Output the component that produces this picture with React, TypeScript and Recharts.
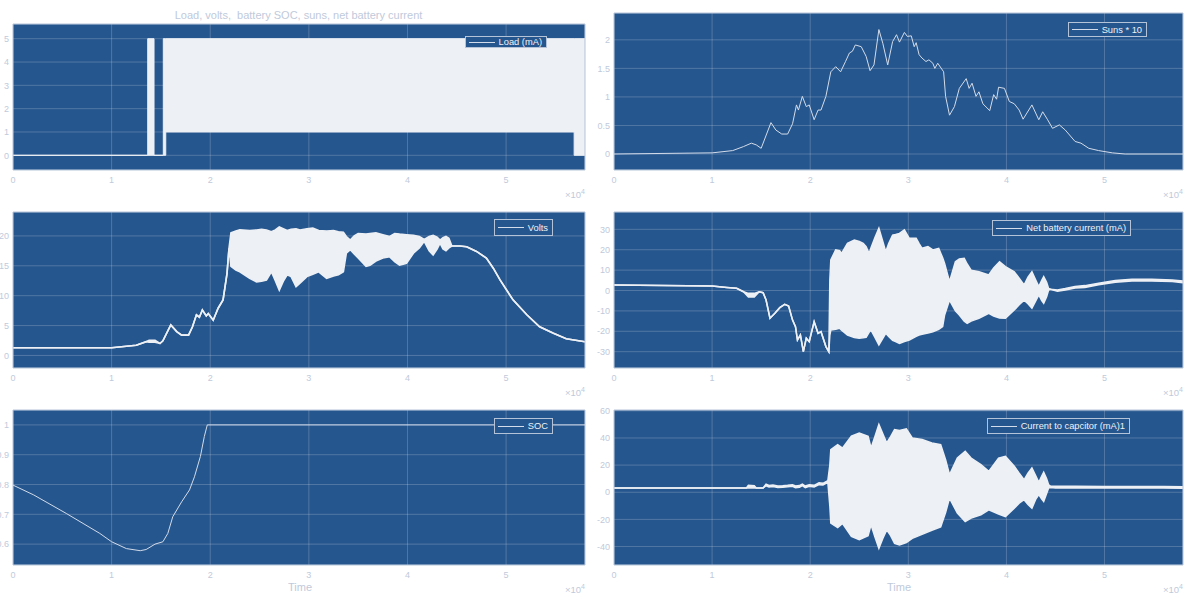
import React from 'react';
import { ComposedChart, Area, Line, XAxis, YAxis, CartesianGrid, ReferenceArea } from 'recharts';

// ---------------- data ----------------
const timeTicks = [0, 10000, 20000, 30000, 40000, 50000];
const timeMax = 58000;

const loadTicks = [0, 1, 2, 3, 4, 5];
const sunsTicks = [0, 0.5, 1, 1.5, 2];
const voltsTicks = [0, 5, 10, 15, 20];
const netTicks = [-30, -20, -10, 0, 10, 20, 30];
const socTicks = [0.6, 0.7, 0.8, 0.9, 1];
const capTicks = [-40, -20, 0, 20, 40, 60];

const loadT = [0, 13660, 13660, 14300, 14300, 15240, 15240, 15490, 15490, 56900, 56900, 58000];
const loadLo = [0, 0, 0, 0, 0, 0, 0, 0, 1, 1, 0, 0];
const loadHi = [0, 0, 5, 5, 0, 0, 5, 5, 5, 5, 5, 5];

const sunsT = [
  0, 10000, 12100, 13200, 14000, 14500, 15000, 16000, 16500, 17100,
  17700, 18200, 18600, 18800, 19200, 19600, 19900, 20400, 20800, 21100,
  21600, 22100, 22600, 23100, 23600, 24000, 24300, 24600, 25200, 25700,
  26100, 26500, 27000, 27400, 27900, 28400, 28800, 29100, 29600, 29900,
  30300, 30600, 30800, 31100, 31400, 31800, 32100, 32500, 32700, 33000,
  33600, 33800, 34200, 34700, 35200, 35900, 36200, 36500, 36900, 37200,
  37600, 38300, 38700, 39000, 39200, 39800, 40300, 40800, 41300, 41700,
  42600, 43300, 43700, 44200, 44700, 45400, 46000, 47000, 47600, 48400,
  49400, 50800, 52100, 58000,
];
const sunsV = [
  0, 0.02, 0.06, 0.13, 0.19, 0.16, 0.1, 0.55, 0.42, 0.35,
  0.35, 0.53, 0.86, 0.77, 1.01, 0.83, 0.86, 0.6, 0.77, 0.77,
  1.01, 1.44, 1.53, 1.44, 1.62, 1.77, 1.8, 1.91, 1.88, 1.71,
  1.46, 1.56, 2.18, 1.94, 1.56, 1.97, 2.09, 1.96, 2.13, 2.06,
  2.07, 1.88, 1.95, 1.74, 1.68, 1.62, 1.65, 1.59, 1.5, 1.59,
  1.44, 1.01, 0.68, 0.83, 1.15, 1.32, 1.15, 1.24, 1.01, 1.09,
  0.88, 0.76, 1.04, 0.96, 1.17, 1.15, 0.92, 0.88, 0.77, 0.61,
  0.86, 0.6, 0.74, 0.6, 0.45, 0.51, 0.42, 0.22, 0.19, 0.1,
  0.06, 0.02, 0, 0,
];

const voltsT = [
  0, 10000, 11500, 12500, 13500, 13800, 14400, 14900, 15200, 16000,
  16600, 17100, 17800, 18200, 18600, 18900, 19200, 19600, 19800, 20300,
  20800, 21300, 21700,
  21900, 22100, 22600, 23000, 24000, 24700, 25200, 25700, 26200, 26600,
  27000, 27400, 27800, 28200, 28700, 29100, 29800, 30400, 31000, 31800,
  32500, 33000, 33500, 33800, 34200, 34600, 35000, 35800, 36200, 36800,
  37500, 38200, 38700, 39200, 39900, 40600, 41200, 41700, 42200, 42600,
  43000, 43300, 43600, 43900, 44200, 44500,
  45300, 46000, 47000, 48000, 48700, 49400, 50700, 52100, 53400, 54800, 56100, 58000,
];
const voltsLo = [
  1.3, 1.3, 1.55, 1.7, 2.3, 2.2, 2.2, 2.0, 2.45, 5.1,
  4.0, 3.4, 3.4, 4.8, 6.8, 6.4, 7.6, 6.6, 7.0, 5.9,
  7.9, 9.3, 13.7,
  17.9, 14.9, 14.3, 14.0, 12.9, 12.3, 12.4, 12.6, 14.0, 12.5,
  10.9, 12.4, 13.5, 13.2, 11.5, 12.1, 13.2, 13.6, 14.0, 12.9,
  13.3, 13.5, 14.0, 17.1, 17.7, 17.0, 16.3, 14.9, 15.1, 15.8,
  16.3, 16.5, 15.7, 15.1, 15.4, 17.1, 18.0, 19.1, 17.5, 16.8,
  17.8, 18.8, 17.8, 17.5, 18.0, 18.3,
  18.3, 18.2, 17.4, 16.3, 14.6, 12.6, 9.3, 6.8, 4.8, 3.7, 2.8, 2.3,
];
const voltsHi = [
  1.3, 1.3, 1.55, 1.7, 2.3, 2.55, 2.55, 2.0, 2.45, 5.1,
  4.0, 3.4, 3.4, 4.8, 6.8, 6.4, 7.6, 6.6, 7.0, 5.9,
  7.9, 9.3, 13.7,
  17.9, 20.5, 20.8, 21.0, 20.9, 21.0, 21.1, 21.0, 20.7, 21.0,
  21.5, 21.2, 20.9, 21.1, 21.2, 21.0, 21.2, 21.3, 20.9, 20.8,
  20.9, 20.7, 20.6, 19.9, 19.3, 20.0, 20.4, 20.3, 20.4, 20.5,
  20.2, 19.9, 20.4, 20.3, 20.2, 20.1, 19.9, 19.4, 19.9, 20.1,
  19.8, 19.3, 19.7, 19.9, 19.6, 18.3,
  18.3, 18.2, 17.4, 16.3, 14.6, 12.6, 9.3, 6.8, 4.8, 3.7, 2.8, 2.3,
];

const netT = [
  0, 10000, 11500, 12500, 13200, 13700, 14300, 14800, 15200, 15500,
  15900, 16400, 16900, 17400, 17800, 18200, 18500, 18700, 19000, 19300,
  19600, 19900, 20400, 20800, 21100, 21600, 21900,
  22000, 22100, 22600, 23000, 23200, 23800, 24500, 25000, 25400, 25700,
  26000, 26200, 26600, 27000, 27400, 27700, 28000, 28400, 28700, 29100,
  29600, 30100, 30800, 31100, 31400, 32000, 32500, 33100, 33500, 33700,
  34200, 34800, 35200, 35700, 36000, 36400, 37200, 38200, 38700, 39300,
  39900, 40800, 41300, 41800, 42200, 42600, 43000, 43300, 43600, 43800,
  44100, 44300, 44500,
  45200, 46000, 47000, 48000, 49400, 51100, 52800, 54800, 56900, 58000,
];
const netLo = [
  2.7, 2.2, 1.5, 1.1, -0.6, -3.2, -3.2, -0.6, -1.1, -4.7,
  -13.6, -11.2, -8.4, -6.8, -7.6, -14.5, -17.7, -24.3, -21.8, -30,
  -23.4, -25.1, -15.3, -21, -20.2, -27.5, -30,
  -22, -19.4, -19, -18.5, -19.5, -21.8, -23, -23.4, -23.2, -23,
  -20.5, -19.4, -23, -26.7, -23.5, -21, -22.5, -24.5, -25, -25.9,
  -25, -24.3, -22.5, -21.8, -21.5, -20.8, -20.2, -19, -17.7, -12,
  -4.7, -10, -12, -15, -16.1, -15, -13.6, -11.2, -12.5, -13.5,
  -13.6, -9.6, -7, -4.7, -6.5, -8.7, -5, -2.2, -5, -6.3,
  -3, 0.2, 0.6,
  -0.4, 0.2, 1.2, 1.5, 2.8, 4.1, 4.7, 4.7, 4.4, 3.8,
];
const netHi = [
  2.7, 2.2, 1.5, 1.1, -0.6, -1.4, -1.4, -0.6, -1.1, -4.7,
  -13.6, -11.2, -8.4, -6.8, -7.6, -14.5, -17.7, -24.3, -21.8, -30,
  -23.4, -25.1, -15.3, -21, -20.2, -27.5, -30,
  5, 15, 19.9, 19.5, 18.2, 23.1, 24.8, 24.0, 23.1, 21.5,
  18.2, 21, 26, 30.5, 24, 19, 23, 27.2, 27.5, 28,
  29.7, 25.6, 25.6, 23, 20.7, 21.5, 19.9, 20.7, 16, 13.3,
  4.3, 14.1, 15.5, 15.8, 13, 10, 9.2, 7.6, 11, 14.1,
  11.7, 9.2, 6, 2.7, 6.5, 9.2, 5, 1.9, 5, 6.8,
  4, 1, 0.6,
  0.3, 1.0, 2.0, 2.4, 3.6, 4.9, 5.5, 5.5, 5.2, 4.6,
];

const socT = [0, 2100, 5400, 8800, 10000, 11500, 12900, 13500, 14400, 15200, 15700, 16200, 17100, 17900, 18400, 19000, 19400, 19700, 58000];
const socV = [0.798, 0.765, 0.703, 0.636, 0.608, 0.585, 0.578, 0.582, 0.6, 0.608, 0.636, 0.692, 0.742, 0.782, 0.826, 0.894, 0.961, 1.0, 1.0];

const capT = [
  0, 10000, 13500, 13700, 14300, 14500, 15200, 15500, 15800, 16200,
  16700, 17200, 17700, 18200, 18500, 18900, 19200, 19500, 19900, 20400,
  20900, 21300, 21800,
  22000, 22100, 22800, 23300, 24200, 25000, 25900, 26200, 26600, 27000,
  27400, 27800, 28200, 28600, 29100, 29800, 30400, 31400, 32400, 33300,
  33800, 34200, 35000, 35800, 36400, 37400, 38200, 39200, 39900, 40800,
  41300, 41800, 42200, 42600, 43000, 43300, 43600, 43800, 44100, 44300,
  44500,
  45000, 47000, 50000, 53000, 56000, 58000,
];
const capLo = [
  3.1, 3.1, 3.1, 3.1, 3.1, 3.1, 3.1, 4.8, 3.9, 4.2,
  3.5, 3.7, 4.0, 4.4, 3.4, 3.7, 4.9, 3.4, 4.4, 3.9,
  5.6, 5.4, 7.3,
  -10, -22.8, -26, -23, -32.6, -35, -32, -24, -33, -41.3,
  -34, -27.7, -32, -37.6, -38.8, -37, -34, -31, -28, -25.5,
  -15, -4.3, -15.4, -21.6, -19, -16.6, -12.9, -16, -17.9, -11.7,
  -8, -5.5, -9, -11.7, -5, -1.8, -5, -6.8, -1, 3.1,
  3.5,
  3.2, 3.2, 3.2, 3.2, 3.1, 2.9,
];
const capHi = [
  3.1, 3.1, 3.1, 5.2, 4.8, 3.1, 3.1, 6.0, 5.0, 5.3,
  4.6, 4.8, 5.1, 5.6, 4.6, 4.9, 6.0, 4.6, 5.5, 5.1,
  6.9, 6.6, 8.6,
  20, 31.4, 35, 32.6, 41.3, 43.7, 41.3, 32.6, 41, 49.9,
  43, 36.3, 41, 46.2, 45.5, 46.7, 40, 38.8, 36.3, 35,
  24, 12.9, 25.2, 30.2, 25.2, 20.3, 15.4, 25.2, 26.5, 19.1,
  14, 9.2, 14, 17.9, 12, 7.3, 12, 14.7, 10, 5.5,
  4.5,
  4.4, 4.4, 4.3, 4.3, 4.2, 4.0,
];

// ---------------- styling ----------------
const BG = '#26568e';
const FG = '#edf0f5';
const THIN = '#d3dcea';
const FRAME = '#b4c3d8';
const TXT = '#bfcadb';
const FONT = '"Liberation Sans", Arial, Helvetica, sans-serif';
const W = 1187;

const bandRows = (t: number[], lo: number[], hi: number[]) =>
  t.map((time, i) => ({ time, band: [lo[i], hi[i]] }));
const lineRows = (t: number[], v: number[]) => t.map((time, i) => ({ time, v: v[i] }));

type Rect = { x: number; y: number; w: number; h: number };

const YW = 30;
const XH = 22;
const MT = 2;
const MR = 2;

function Panel(props: {
  plot: Rect;
  domain: [number, number];
  ticks: number[];
  data: any[];
  kind: 'band' | 'line';
  sw: number;
}) {
  const { plot, domain, ticks, data, kind, sw } = props;
  const tickStyle = { fontSize: 9, fill: TXT, fontFamily: FONT };
  return (
    <div style={{ position: 'absolute', left: plot.x - YW, top: plot.y - MT }}>
      <ComposedChart
        width={plot.w + YW + MR}
        height={plot.h + MT + XH}
        data={data}
        margin={{ top: MT, right: MR, left: 0, bottom: 0 }}
        style={{ overflow: 'visible' }}
      >
        <CartesianGrid stroke="#ffffff" strokeOpacity={0.2} fill={BG} fillOpacity={1} />
        <XAxis
          dataKey="time"
          type="number"
          domain={[0, timeMax]}
          ticks={timeTicks}
          allowDataOverflow
          interval={0}
          tickFormatter={(v: number) => String(v / 10000)}
          axisLine={false}
          tickLine={false}
          tickSize={0}
          tickMargin={7}
          height={XH}
          tick={tickStyle}
        />
        <YAxis
          type="number"
          domain={domain}
          ticks={ticks}
          allowDataOverflow
          interval={0}
          axisLine={false}
          tickLine={false}
          tickSize={0}
          tickMargin={4}
          width={YW}
          tick={tickStyle}
        />
        {kind === 'band' ? (
          <Area
            dataKey="band"
            type="linear"
            stroke={FG}
            strokeWidth={sw}
            fill={FG}
            fillOpacity={1}
            dot={false}
            activeDot={false}
            isAnimationActive={false}
          />
        ) : (
          <Line
            dataKey="v"
            type="linear"
            stroke={THIN}
            strokeWidth={sw}
            dot={false}
            activeDot={false}
            isAnimationActive={false}
          />
        )}
        <ReferenceArea
          x1={0}
          x2={timeMax}
          y1={domain[0]}
          y2={domain[1]}
          fill="none"
          fillOpacity={0}
          stroke={FRAME}
          strokeWidth={1}
        />
      </ComposedChart>
    </div>
  );
}

function LegendBox(props: { right: number; top: number; h: number; label: string }) {
  const { right, top, h, label } = props;
  return (
    <div
      style={{
        position: 'absolute',
        right: W - right,
        top,
        height: h,
        boxSizing: 'border-box',
        border: `1px solid ${FRAME}`,
        background: BG,
        display: 'flex',
        alignItems: 'center',
        padding: '0 4px 0 3px',
        fontFamily: FONT,
        fontSize: 9.3,
        color: '#eef2f7',
        whiteSpace: 'nowrap',
      }}
    >
      <div style={{ width: 26, height: 0, borderTop: `1px solid ${THIN}`, marginRight: 4 }} />
      <span>{label}</span>
    </div>
  );
}

function Exp(props: { right: number; top: number }) {
  return (
    <div
      style={{
        position: 'absolute',
        right: W - props.right,
        top: props.top,
        fontFamily: FONT,
        fontSize: 9.5,
        lineHeight: '11px',
        color: TXT,
        whiteSpace: 'nowrap',
      }}
    >
      ×10<span style={{ fontSize: 7, position: 'relative', top: -4 }}>4</span>
    </div>
  );
}

export default function App() {
  const P1: Rect = { x: 13, y: 24, w: 572, h: 146 };
  const P2: Rect = { x: 614, y: 13, w: 569, h: 157 };
  const P3: Rect = { x: 13, y: 212, w: 572, h: 156 };
  const P4: Rect = { x: 614, y: 212, w: 569, h: 156 };
  const P5: Rect = { x: 13, y: 410, w: 572, h: 155 };
  const P6: Rect = { x: 614, y: 410, w: 569, h: 155 };

  return (
    <div
      style={{
        position: 'absolute',
        left: 0,
        top: 0,
        width: W,
        height: 597,
        background: '#ffffff',
        overflow: 'hidden',
        fontFamily: FONT,
      }}
    >
      <div
        style={{
          position: 'absolute',
          left: 0,
          width: 597,
          top: 9,
          textAlign: 'center',
          fontSize: 11,
          color: TXT,
          whiteSpace: 'pre',
        }}
      >
        {'Load, volts,  battery SOC, suns, net battery current'}
      </div>

      <Panel plot={P1} domain={[-0.63, 5.63]} ticks={loadTicks} data={bandRows(loadT, loadLo, loadHi)} kind="band" sw={1} />
      <Panel plot={P2} domain={[-0.28, 2.47]} ticks={sunsTicks} data={lineRows(sunsT, sunsV)} kind="line" sw={1} />
      <Panel plot={P3} domain={[-2.1, 24]} ticks={voltsTicks} data={bandRows(voltsT, voltsLo, voltsHi)} kind="band" sw={1.6} />
      <Panel plot={P4} domain={[-38, 38.5]} ticks={netTicks} data={bandRows(netT, netLo, netHi)} kind="band" sw={1.5} />
      <Panel plot={P5} domain={[0.53, 1.05]} ticks={socTicks} data={lineRows(socT, socV)} kind="line" sw={1} />
      <Panel plot={P6} domain={[-53.6, 60.6]} ticks={capTicks} data={bandRows(capT, capLo, capHi)} kind="band" sw={1.5} />

      <LegendBox right={547} top={36} h={12} label="Load (mA)" />
      <LegendBox right={1147} top={22} h={15} label="Suns * 10" />
      <LegendBox right={553} top={219} h={17} label="Volts" />
      <LegendBox right={1131} top={220} h={16} label="Net battery current (mA)" />
      <LegendBox right={553} top={418} h={16} label="SOC" />
      <LegendBox right={1130} top={418} h={16} label="Current to capcitor (mA)1" />

      <Exp right={585} top={189} />
      <Exp right={1183} top={189} />
      <Exp right={585} top={387} />
      <Exp right={1183} top={387} />
      <Exp right={585} top={584} />
      <Exp right={1183} top={584} />

      <div style={{ position: 'absolute', left: 250, width: 100, top: 581, textAlign: 'center', fontSize: 11, color: TXT }}>
        Time
      </div>
      <div style={{ position: 'absolute', left: 849, width: 100, top: 581, textAlign: 'center', fontSize: 11, color: TXT }}>
        Time
      </div>
    </div>
  );
}
